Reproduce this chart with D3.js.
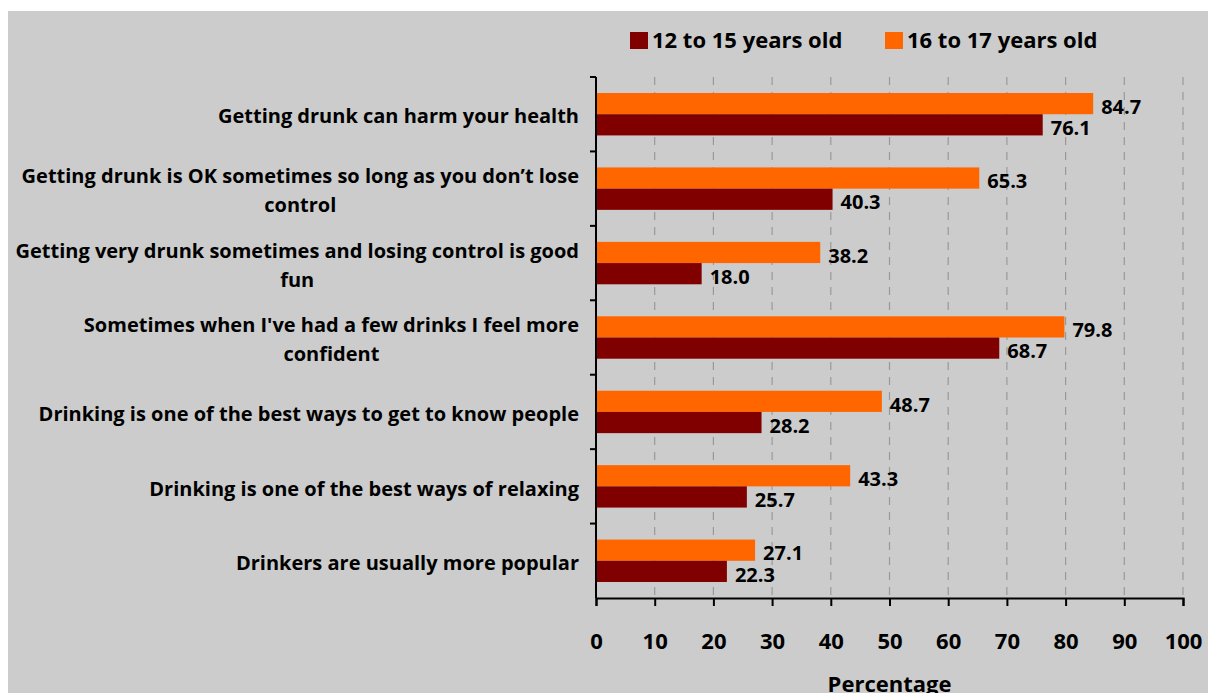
<!DOCTYPE html>
<html>
<head>
<meta charset="utf-8">
<script src="https://cdn.jsdelivr.net/npm/d3@7"></script>
<style>
  body { margin: 0; background: #fff; }
  svg text { font-family: "Open Sans", Lato, sans-serif; font-weight: bold; fill: #000; }
</style>
</head>
<body>
<div class="chart"></div>
<script>
// categories, top to bottom (line breaks as in the original)
const categories = [
    "Getting drunk can harm your health",
    "Getting drunk is OK sometimes so long as you don\u2019t lose\ncontrol",
    "Getting very drunk sometimes and losing control is good\nfun",
    "Sometimes when I've had a few drinks I feel more\nconfident",
    "Drinking is one of the best ways to get to know people",
    "Drinking is one of the best ways of relaxing",
    "Drinkers are usually more popular"
];
const seriesNames = ["16 to 17 years old", "12 to 15 years old"];
const older = [84.7, 65.3, 38.2, 79.8, 48.7, 43.3, 27.1];
const younger = [76.1, 40.3, 18.0, 68.7, 28.2, 25.7, 22.3];
const xTicks = [0, 10, 20, 30, 40, 50, 60, 70, 80, 90, 100];
const colors = { "16 to 17 years old": "#ff6600", "12 to 15 years old": "#800000" };

const width = 1208, height = 693;
const svg = d3.select(".chart").append("svg")
    .attr("width", width)
    .attr("height", height);

// grey chart area
svg.append("rect")
    .attr("x", 8).attr("y", 11)
    .attr("width", width - 8).attr("height", height - 11)
    .attr("fill", "#cccccc");

const x = d3.scaleLinear().domain([0, 100]).range([596, 1183]);
const y = d3.scaleBand().domain(categories).range([77, 598]);
const inner = d3.scaleBand().domain(seriesNames).range([16, y.bandwidth() - 16]);

// dashed gridlines
svg.append("g")
    .selectAll("line")
    .data(xTicks.slice(1))
    .enter().append("line")
    .attr("x1", d => x(d)).attr("x2", d => x(d))
    .attr("y1", 77).attr("y2", 598)
    .attr("stroke", "#999")
    .attr("stroke-width", 1.2)
    .attr("stroke-dasharray", "8,7");

// bars
const rows = categories.map((c, i) => ({ cat: c, values: [
    { key: seriesNames[0], v: older[i] },
    { key: seriesNames[1], v: younger[i] }
]}));

const group = svg.append("g")
    .selectAll("g")
    .data(rows)
    .enter().append("g")
    .attr("transform", d => `translate(0,${y(d.cat)})`);

group.selectAll("rect")
    .data(d => d.values)
    .enter().append("rect")
    .attr("x", x(0))
    .attr("y", d => inner(d.key))
    .attr("width", d => x(d.v) - x(0))
    .attr("height", inner.bandwidth())
    .attr("fill", d => colors[d.key]);

group.selectAll("text")
    .data(d => d.values)
    .enter().append("text")
    .attr("x", d => x(d.v) + 8)
    .attr("y", d => inner(d.key) + inner.bandwidth() / 2 + 3)
    .attr("dy", "0.36em")
    .style("font-size", "20px")
    .text(d => d.v.toFixed(1));

// y axis with outer ticks at category boundaries
const yAxis = svg.append("g");
yAxis.append("line")
    .attr("x1", x(0)).attr("x2", x(0))
    .attr("y1", 77).attr("y2", 598)
    .attr("stroke", "#000").attr("stroke-width", 2);
yAxis.selectAll(".tk")
    .data(categories)
    .enter().append("line")
    .attr("x1", x(0) - 6).attr("x2", x(0))
    .attr("y1", d => y(d)).attr("y2", d => y(d))
    .attr("stroke", "#000").attr("stroke-width", 2);

// category labels: right-aligned block, lines centered within it
const labelRight = 579;
categories.forEach(c => {
    const lines = c.split("\n");
    const cy = y(c) + y.bandwidth() / 2 + 2;
    const lineH = 29;
    const t = svg.append("text")
        .style("font-size", "20px");
    lines.forEach((ln, j) => {
        t.append("tspan")
            .attr("y", cy + (j - (lines.length - 1) / 2) * lineH)
            .attr("dy", "0.36em")
            .text(ln);
    });
    // measure widest line to centre lines within block
    const spans = t.selectAll("tspan").nodes();
    const widths = spans.map(s => s.getComputedTextLength());
    const maxW = d3.max(widths);
    spans.forEach((s, j) => {
        d3.select(s).attr("x", labelRight - maxW + (maxW - widths[j]) / 2);
    });
});

// x axis
const xAxis = svg.append("g")
    .attr("transform", "translate(0,598)")
    .call(d3.axisBottom(x).tickValues(xTicks).tickSize(8).tickPadding(27).tickFormat(d3.format("d")));
xAxis.select(".domain").attr("stroke", "#000").attr("stroke-width", 2);
xAxis.selectAll(".tick line").attr("stroke", "#000").attr("stroke-width", 2);
xAxis.selectAll(".tick text").style("font-size", "22px").style("font-family", "'Open Sans', sans-serif");

svg.append("text")
    .attr("x", (x(0) + x(100)) / 2)
    .attr("y", 692)
    .attr("text-anchor", "middle")
    .style("font-size", "22px")
    .text("Percentage");

// legend
const legendItems = [
    { key: "12 to 15 years old", x: 630 },
    { key: "16 to 17 years old", x: 885 }
];
const legend = svg.append("g")
    .selectAll("g")
    .data(legendItems)
    .enter().append("g")
    .attr("transform", d => `translate(${d.x},32)`);
legend.append("rect")
    .attr("width", 18).attr("height", 17)
    .attr("fill", d => colors[d.key]);
legend.append("text")
    .attr("x", 22).attr("y", 16)
    .style("font-size", "22px")
    .text(d => d.key);
</script>
</body>
</html>
